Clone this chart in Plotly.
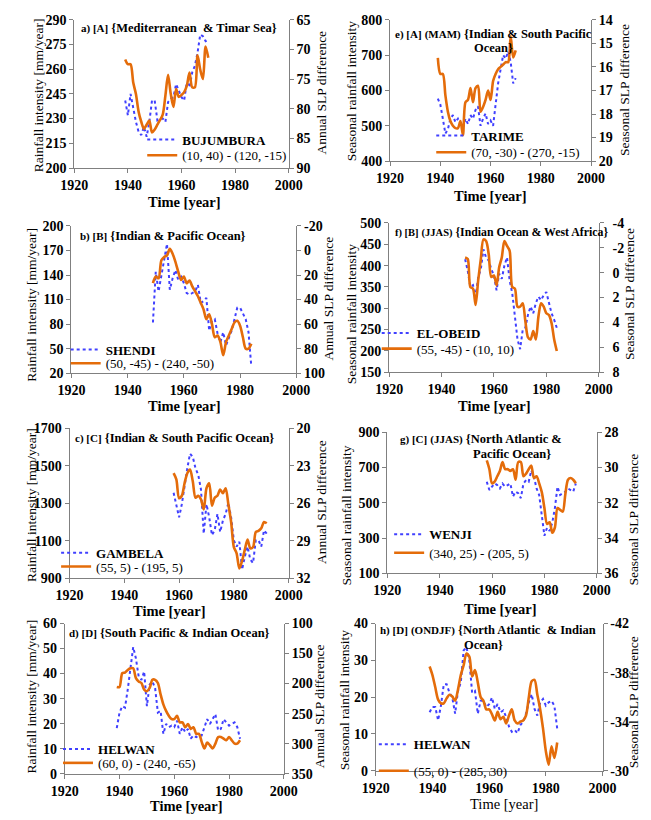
import plotly.graph_objects as go

W, H = 651, 820

# ---------------- data ----------------
years_a = list(range(1939, 1971))
bujumbura = [241, 232, 245, 236, 228, 222, 220, 225, 219, 228, 241, 241, 229, 230, 230, 228,
             240, 242, 243, 251, 247, 243, 241, 252, 249, 258, 262, 270, 281, 280, 277, 278]
slp_a = [71.7, 72.5, 72.5, 75.6, 77.5, 80.5, 82.2, 83.4, 82.7, 82.0, 84.0, 83.5, 82.7, 81.9,
         81.0, 77.8, 74.3, 77.5, 79.7, 76.7, 78.0, 77.7, 77.2, 76.1, 73.9, 76.4, 76.4, 71.0,
         73.4, 75.0, 69.5, 71.4]

years_e = list(range(1939, 1971))
tarime = [577, 560, 520, 478, 490, 520, 530, 510, 520, 505, 495, 520, 505, 530, 520, 545,
          555, 500, 520, 535, 505, 515, 500, 560, 620, 660, 700, 690, 710, 680, 620, 635]
slp_e = [15.62, 16.3, 16.3, 17.2, 17.9, 18.3, 18.5, 18.6, 18.6, 18.3, 18.9, 17.5, 17.4, 16.9,
         17.5, 16.9, 16.8, 17.9, 17.7, 17.4, 17.0, 17.4, 16.6, 16.3, 16.1, 16.0, 15.9, 15.8,
         15.8, 14.7, 15.6, 15.3]

years_b = list(range(1949, 1985))
shendi = [82, 144, 120, 140, 162, 178, 122, 136, 146, 134, 138, 130, 118, 116, 118, 120, 128,
          106, 108, 112, 72, 84, 86, 68, 58, 70, 54, 62, 72, 86, 100, 100, 92, 86, 70, 28]
slp_b = [26.7, 21.3, 22.7, 8.0, 5.3, 4.0, -1.3, 2.7, 9.3, 17.3, 24.0, 21.3, 26.7, 24.5, 29.3,
         33.3, 37.3, 42.7, 48.0, 56.0, 52.0, 60.0, 70.7, 69.3, 74.7, 85.3, 74.7, 69.3, 64.0,
         58.7, 57.3, 61.3, 70.7, 80.0, 80.0, 76.0]

years_f = list(range(1949, 1985))
el_obeid = [415, 388, 350, 354, 327, 373, 392, 438, 419, 412, 392, 377, 342, 381, 369, 400,
            419, 365, 335, 281, 227, 204, 250, 254, 285, 304, 288, 312, 327, 319, 331, 338,
            312, 288, 273, 254]
slp_f = [-1.23, -1.1, 1.15, 1.28, 2.6, 0.6, -1.1, -2.68, -2.55, -1.5, 0.35, 0.22, 1.0, -0.44,
         -1.23, -2.55, -2.15, -1.76, 1.15, 1.28, 2.73, 2.73, 2.46, 3.9, 5.2, 5.37, 4.7, 5.37,
         3.5, 2.46, 2.73, 3.26, 3.4, 4.05, 5.37, 6.3]

years_c = list(range(1958, 1993))
gambela = [1356, 1295, 1225, 1295, 1399, 1486, 1564, 1547, 1486, 1451, 1373, 1138, 1295, 1225,
           1130, 1156, 1243, 1147, 1208, 1243, 1303, 1225, 1103, 1069, 1095, 947, 1016, 1069,
           1000, 982, 1103, 1103, 1069, 1156, 1138]
slp_c = [23.6, 24.1, 25.6, 25.4, 24.4, 23.6, 23.3, 24.25, 25.56, 25.4, 25.7, 26.5, 24.8, 24.4,
         26.2, 25.56, 25.4, 24.9, 25.2, 24.8, 26.1, 27.5, 29.5, 30.0, 31.2, 30.6, 29.7, 28.9,
         29.6, 29.5, 28.3, 28.2, 28.0, 27.5, 27.6]

years_g = list(range(1958, 1993))
wenji = [619, 572, 591, 609, 600, 581, 609, 591, 600, 609, 535, 563, 554, 526, 609, 628, 619,
         683, 646, 581, 544, 415, 313, 359, 341, 387, 470, 591, 544, 554, 563, 581, 572, 563, 609]
slp_g = [29.6, 30.1, 30.9, 30.8, 30.5, 30.2, 29.7, 30.1, 30.1, 30.2, 30.1, 30.7, 29.7, 29.7,
         30.5, 30.35, 30.1, 29.9, 30.6, 30.5, 30.9, 31.4, 32.3, 33.2, 33.1, 33.7, 33.4, 32.3,
         32.4, 32.5, 31.5, 30.7, 30.6, 30.7, 30.9]

years_d = list(range(1939, 1985))
helwan_d = [18.2, 24.4, 27.0, 26.4, 33.6, 42.0, 50.6, 46.0, 38.8, 37.5, 40.8, 27.0, 35.6, 36.9,
            34.2, 24.4, 25.1, 15.9, 19.9, 18.6, 19.2, 18.6, 21.2, 15.9, 18.6, 16.6, 17.9, 14.0,
            15.3, 14.6, 15.3, 15.3, 18.6, 21.8, 19.9, 21.8, 23.8, 17.3, 17.9, 21.8, 20.5, 19.2,
            19.9, 20.5, 18.6, 14.0]
slp_d = [205.7, 205.7, 182.8, 181.7, 177.3, 174.6, 174.6, 191.0, 196.4, 199.0, 210.0, 212.7,
         207.3, 193.7, 193.7, 199.0, 218.0, 234.5, 245.4, 253.6, 259.0, 259.0, 253.6, 264.5,
         264.5, 272.7, 267.2, 275.4, 272.7, 283.6, 283.6, 297.0, 308.0, 298.3, 302.6, 308.0,
         299.9, 289.0, 289.0, 291.7, 294.4, 289.0, 294.4, 299.9, 299.9, 294.4]

years_h = list(range(1939, 1985))
helwan_h = [15.9, 17.3, 17.3, 13.7, 17.7, 23.5, 23.5, 21.2, 19.9, 15.5, 21.7, 24.0, 32.7, 33.6,
            30.0, 21.2, 21.7, 15.5, 19.0, 19.0, 17.3, 18.1, 19.9, 16.8, 18.1, 15.9, 16.4, 14.6,
            12.0, 10.6, 11.1, 10.2, 12.4, 13.3, 15.5, 18.6, 20.8, 16.8, 15.0, 18.6, 19.5, 17.7,
            18.6, 19.0, 17.7, 11.5]
slp_h = [-38.5, -37.8, -36.8, -35.8, -35.5, -35.5, -35.9, -36.2, -36.05, -35.7, -36.6, -37.8,
         -38.6, -39.55, -39.3, -37.7, -38.2, -37.2, -36.0, -35.7, -35.0, -35.0, -34.6, -34.1,
         -34.8, -34.2, -34.4, -33.85, -34.5, -35.0, -34.1, -33.85, -34.0, -34.1, -34.5, -36.0,
         -37.3, -37.4, -36.2, -35.0, -33.45, -31.6, -30.5, -32.0, -31.05, -32.3]

station_names = ["BUJUMBURA", "TARIME", "SHENDI", "EL-OBEID", "GAMBELA", "WENJI", "HELWAN", "HELWAN"]
slp_names = ["(10, 40) - (120, -15)", "(70, -30) - (270, -15)", "(50, -45) - (240, -50)",
             "(55, -45) - (10, 10)", "(55, 5) - (195, 5)", "(340, 25) - (205, 5)",
             "(60, 0) - (240, -65)", "(55, 0) - (285, 30)"]

left_ranges = [(200, 290, 15), (400, 800, 100), (20, 200, 30), (150, 500, 50),
               (900, 1700, 200), (100, 900, 200), (0, 60, 10), (0, 40, 10)]
right_ranges = [(65, 90, 5), (14, 20, 1), (-20, 100, 20), (-4, 8, 2),
                (20, 32, 3), (28, 36, 2), (100, 350, 50), (-42, -30, 4)]

years_all = [years_a, years_e, years_b, years_f, years_c, years_g, years_d, years_h]
rain_all = [bujumbura, tarime, shendi, el_obeid, gambela, wenji, helwan_d, helwan_h]
slp_all = [slp_a, slp_e, slp_b, slp_f, slp_c, slp_g, slp_d, slp_h]

# ---------------- layout geometry (pixels) ----------------
boxes = [(63, 287, 13, 164), (393, 603, 13, 157),
         (60, 295, 223, 373), (392, 611, 220, 372),
         (58, 287, 429, 582), (390, 609, 433, 577),
         (53, 282, 628, 781), (378, 615, 628, 778)]
# legend: text-start x, centre y of item 1, centre y of item 2
legend_pos = [(180, 135, 151), (482, 131, 148), (100, 349, 363), (425, 332, 348),
              (90, 556, 570), (438, 537, 556), (92, 756, 770), (422, 751, 778)]
right_standoff = [0, 0, 0, 6, 0, 0, 0, 0]

FONT = "Liberation Serif"
BLUE = "#4040ff"
ORANGE = "#e46c0a"
AXCOL = "#808080"


def fx(px):
    return px / W


def fy(py):
    return 1 - py / H


def ticks(lo, hi, dt):
    vals = list(range(lo, hi + 1, dt))
    return dict(tickvals=vals, ticktext=[str(v) for v in vals])


fig = go.Figure()
layout = dict(
    width=W, height=H, margin=dict(l=0, r=0, t=0, b=0),
    paper_bgcolor="white", plot_bgcolor="white",
    font=dict(family=FONT, color="black"),
    showlegend=True,
)

tickfont = dict(family=FONT, size=14, color="black", weight="bold")
axis_common = dict(showline=True, linecolor=AXCOL, linewidth=1, ticks="outside", ticklen=4,
                   tickcolor=AXCOL, showgrid=False, zeroline=False, tickfont=tickfont)

for k in range(8):
    l, r, t, b = boxes[k]
    xa = f"xaxis{k + 1}" if k else "xaxis"
    ya = f"yaxis{2 * k + 1}" if k else "yaxis"
    yb = f"yaxis{2 * k + 2}"
    xid = f"x{k + 1}" if k else "x"
    yid = f"y{2 * k + 1}" if k else "y"
    yid2 = f"y{2 * k + 2}"
    layout[xa] = dict(domain=[fx(l), fx(r)], anchor=yid, range=[1920, 2000],
                      **ticks(1920, 2000, 20), **axis_common)
    lo, hi, dt = left_ranges[k]
    layout[ya] = dict(domain=[fy(b), fy(t)], anchor=xid, range=[lo, hi],
                      **ticks(lo, hi, dt), **axis_common)
    lo2, hi2, dt2 = right_ranges[k]
    layout[yb] = dict(domain=[fy(b), fy(t)], anchor=xid, overlaying=yid, side="right",
                      range=[hi2, lo2], ticklabelstandoff=right_standoff[k],
                      **ticks(lo2, hi2, dt2), **axis_common)

    tx, cy1, cy2 = legend_pos[k]
    lg1 = "legend" if k == 0 else f"legend{2 * k + 1}"
    lg2 = f"legend{2 * k + 2}"
    for lg, cy in ((lg1, cy1), (lg2, cy2)):
        layout[lg] = dict(x=fx(tx - 46), y=fy(cy), xanchor="left", yanchor="middle",
                          bgcolor="rgba(0,0,0,0)", borderwidth=0, itemwidth=30,
                          font=dict(family=FONT, size=13, color="black"))

    fig.add_trace(go.Scatter(x=years_all[k], y=rain_all[k], mode="lines",
                             name=f"<b>{station_names[k]}</b>", legend=lg1,
                             line=dict(color=BLUE, width=2, dash="dot"),
                             xaxis=xid, yaxis=yid))
    fig.add_trace(go.Scatter(x=years_all[k], y=slp_all[k], mode="lines",
                             name=slp_names[k], legend=lg2,
                             line=dict(color=ORANGE, width=2.6, shape="spline", smoothing=0.8),
                             xaxis=xid, yaxis=yid2))

ann = []


def add_text(text, x, y, size, xanchor="center", angle=0, bold=False):
    ann.append(dict(text=f"<b>{text}</b>" if bold else text, x=fx(x), y=fy(y),
                    xref="paper", yref="paper", showarrow=False, xanchor=xanchor,
                    yanchor="middle", textangle=angle,
                    font=dict(family=FONT, size=size, color="black")))


S = '<span style="font-size:11px">'
# panel titles
add_text(S + "a) [A]</span> {Mediterranean&nbsp; &amp; Timar Sea}", 68, 21, 12.5, "left", bold=True)
add_text(S + "e) [A]</span> " + S + "(MAM)</span> {Indian &amp; South Pacific", 501, 27, 12.5, bold=True)
add_text("Ocean}", 501, 42, 12.5, bold=True)
add_text(S + "b) [B]</span> {Indian &amp; Pacific Ocean}", 67, 233, 12.5, "left", bold=True)
add_text('<span style="font-size:10.5px">f) [B]</span> <span style="font-size:10.5px">(JJAS)</span> {Indian Ocean &amp; West Africa}',
         396, 229, 11.8, "left", bold=True)
add_text(S + "c) [C]</span> {Indian &amp; South Pacific Ocean}", 62, 439, 12.5, "left", bold=True)
add_text(S + "g) [C]</span> " + S + "(JJAS)</span> {North Atlantic &amp;", 401, 440, 12.5, "left", bold=True)
add_text("Pacific Ocean}", 563, 455, 12.5, "right", bold=True)
add_text(S + "d) [D]</span> {South Pacific &amp; Indian Ocean}", 55, 638, 12.5, "left", bold=True)
add_text(S + "h) [D]</span> " + S + "(ONDJF)</span> {North Atlantic&nbsp; &amp; Indian", 380, 635, 12.5, "left", bold=True)
add_text("Ocean}", 468, 650, 12.5, "left", bold=True)

# x titles
for (x, y), bold in zip([(178, 199), (498, 193), (178, 406), (502, 406), (163, 615), (508, 613),
                         (180, 814), (512, 812)], [True] * 7 + [False]):
    add_text("Time [year]", x, y, 14.5, bold=bold)

# y titles
left_titles = ["Rainfall intensity [mm/year]", "Seasonal rainfall intensity"] * 4
right_titles = ["Annual SLP difference", "Seasonal SLP difference"] * 4
for (x, y), txt in zip([(25, 90), (353, 86), (18, 303), (352, 313), (18, 507), (347, 518),
                        (18, 702), (345, 706)], left_titles):
    add_text(txt, x, y, 13.5, angle=-90)
for (x, y), txt in zip([(321, 87), (638, 85), (329, 297), (643, 292), (322, 504), (647, 522),
                        (320, 712), (647, 708)], right_titles):
    add_text(txt, x, y, 13.5, angle=-90)

layout["annotations"] = ann
fig.update_layout(**layout)
fig.write_html("out.html")
